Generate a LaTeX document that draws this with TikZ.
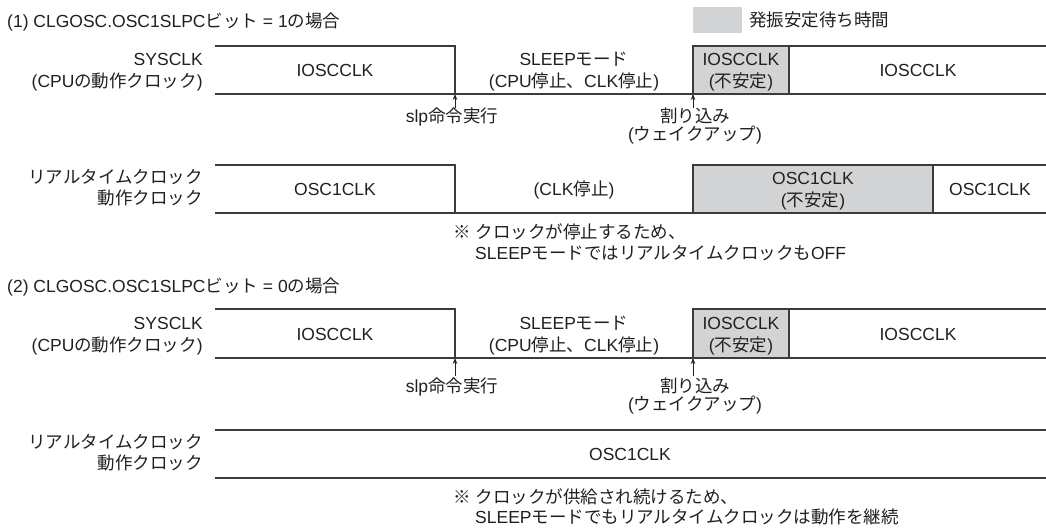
\documentclass[tikz,border=0pt]{standalone}
\usepackage{fontspec}
\setmainfont{Liberation Sans}
\newfontfamily\jp{Noto Sans CJK JP}
\newcommand\J[1]{{\jp #1}}
\usetikzlibrary{arrows.meta}
\definecolor{ink}{HTML}{231F20}
\definecolor{wline}{HTML}{3C3A3A}
\definecolor{gfill}{HTML}{D1D3D4}
\begin{document}
\begin{tikzpicture}[x=1pt,y=-1pt,
  every node/.style={inner sep=0pt, text=ink, font=\fontsize{17.5}{21}\selectfont},
  txt/.style={anchor=base, yshift=-6.5pt},
  txtr/.style={anchor=base east, yshift=-6.5pt},
  txtl/.style={anchor=base west, yshift=-6.5pt},
  wave/.style={draw=wline, line width=1.2pt},
  unstable/.style={wave, fill=gfill},
  arr/.style={draw=ink, line width=0.7pt, -{Stealth[length=6pt,width=4.5pt]}},
]
\fill[white] (0,0) rectangle (1046,529);
\useasboundingbox (0,0) rectangle (1046,529);

% ---------- Section (1) ----------
\node[txtl] (title1) at (7,21) {(1) CLGOSC.OSC1SLPC\J{ビット} = 1\J{の場合}};
\node[fill=gfill, minimum width=49pt, minimum height=26pt, anchor=north west] (legbox) at (693,7) {};
\node[txtl] (legtxt) at (749,20) {\J{発振安定待ち時間}};

% SYSCLK waveform
\draw[wave] (215,46) -- (455,46) -- (455,94);
\draw[wave] (215,94) -- (1046,94);
\draw[unstable] (693,46) rectangle (789,94);
\draw[wave] (789,46) -- (1046,46);

\node[txtr] (sys1a) at (203,59) {SYSCLK};
\node[txtr] (sys1b) at (203,81) {(CPU\J{の動作クロック})};
\node[txt] (ios1a) at (335,70) {IOSCCLK};
\node[txt] (slm1a) at (574,59) {SLEEP\J{モード}};
\node[txt] (slm1b) at (574,81) {(CPU\J{停止、}CLK\J{停止})};
\node[txt] (ius1a) at (741,59) {IOSCCLK};
\node[txt] (ius1b) at (741,81) {(\J{不安定})};
\node[txt] (ios1b) at (918,70) {IOSCCLK};

\coordinate (slp1h) at (455,94);
\coordinate (slp1t) at (455,108);
\draw[arr] (slp1t) -- (slp1h);
\node[txt] (slp1) at (452,116) {slp\J{命令実行}};
\coordinate (int1h) at (693,94);
\coordinate (int1t) at (693,108);
\draw[arr] (int1t) -- (int1h);
\node[txt] (int1a) at (695,116) {\J{割り込み}};
\node[txt] (int1b) at (695,134) {(\J{ウェイクアップ})};

% RTC waveform
\draw[wave] (215,165) -- (455,165) -- (455,213);
\draw[wave] (215,213) -- (1046,213);
\draw[unstable] (693,165) rectangle (933,213);
\draw[wave] (933,165) -- (1046,165);

\node[txtr] (rtc1a) at (203,177) {\J{リアルタイムクロック}};
\node[txtr] (rtc1b) at (203,198) {\J{動作クロック}};
\node[txt] (osc1a) at (335,189) {OSC1CLK};
\node[txt] (stop1) at (574,189) {(CLK\J{停止})};
\node[txt] (ous1a) at (813,178) {OSC1CLK};
\node[txt] (ous1b) at (813,200) {(\J{不安定})};
\node[txt] (osc1b) at (990,189) {OSC1CLK};

\node[txtl] (note1a) at (453,232) {\J{※} \J{クロックが停止するため、}};
\node[txtl] (note1b) at (475,253) {SLEEP\J{モードではリアルタイムクロックも}OFF};

% ---------- Section (2) ----------
\node[txtl] (title2) at (7,286) {(2) CLGOSC.OSC1SLPC\J{ビット} = 0\J{の場合}};

\draw[wave] (215,309) -- (455,309) -- (455,358);
\draw[wave] (215,358) -- (1046,358);
\draw[unstable] (693,309) rectangle (789,358);
\draw[wave] (789,309) -- (1046,309);

\node[txtr] (sys2a) at (203,323) {SYSCLK};
\node[txtr] (sys2b) at (203,345) {(CPU\J{の動作クロック})};
\node[txt] (ios2a) at (335,334) {IOSCCLK};
\node[txt] (slm2a) at (574,323) {SLEEP\J{モード}};
\node[txt] (slm2b) at (574,345) {(CPU\J{停止、}CLK\J{停止})};
\node[txt] (ius2a) at (741,323) {IOSCCLK};
\node[txt] (ius2b) at (741,345) {(\J{不安定})};
\node[txt] (ios2b) at (918,334) {IOSCCLK};

\coordinate (slp2h) at (455,358);
\coordinate (slp2t) at (455,376);
\draw[arr] (slp2t) -- (slp2h);
\node[txt] (slp2) at (452,386) {slp\J{命令実行}};
\coordinate (int2h) at (693,358);
\coordinate (int2t) at (693,376);
\draw[arr] (int2t) -- (int2h);
\node[txt] (int2a) at (695,386) {\J{割り込み}};
\node[txt] (int2b) at (695,404) {(\J{ウェイクアップ})};

\draw[wave] (215,430) -- (1046,430);
\draw[wave] (215,478) -- (1046,478);

\node[txtr] (rtc2a) at (203,442) {\J{リアルタイムクロック}};
\node[txtr] (rtc2b) at (203,463) {\J{動作クロック}};
\node[txt] (osc2) at (630,454) {OSC1CLK};

\node[txtl] (note2a) at (453,497) {\J{※} \J{クロックが供給され続けるため、}};
\node[txtl] (note2b) at (475,517) {SLEEP\J{モードでもリアルタイムクロックは動作を継続}};
\end{tikzpicture}
\end{document}
